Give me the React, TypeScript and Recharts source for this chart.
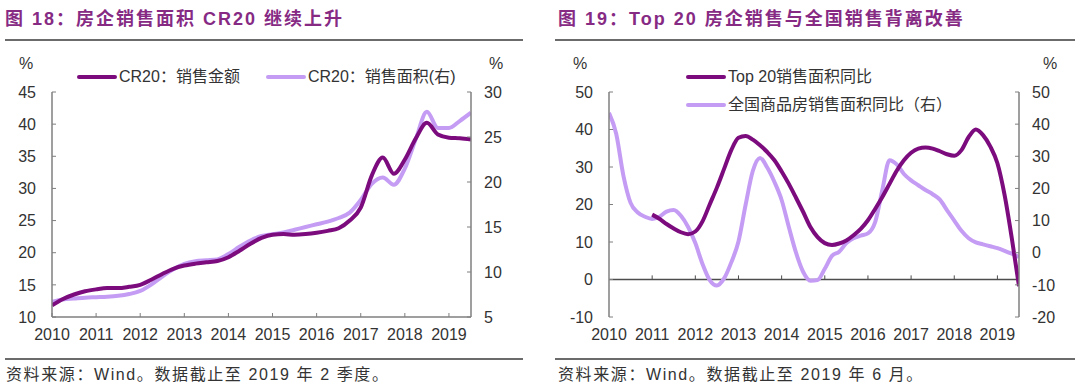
import React from 'react';
import { LineChart, Line, XAxis, YAxis, Legend, ReferenceLine } from 'recharts';

const FONT = '"Liberation Sans", Arial, "Noto Sans CJK SC", sans-serif';
const DARK = '#7c0b7e';
const LIGHT = '#c59cf4';
const AXIS = '#7f7f7f';
const TEXT = '#333333';
const TITLE_COLOR = '#862a84';

const years = [2010, 2011, 2012, 2013, 2014, 2015, 2016, 2017, 2018, 2019];

// 图18 quarterly CR20 (%)
const cr20Quarters = [
  '2009Q4',
  '2010Q1', '2010Q2', '2010Q3', '2010Q4',
  '2011Q1', '2011Q2', '2011Q3', '2011Q4',
  '2012Q1', '2012Q2', '2012Q3', '2012Q4',
  '2013Q1', '2013Q2', '2013Q3', '2013Q4',
  '2014Q1', '2014Q2', '2014Q3', '2014Q4',
  '2015Q1', '2015Q2', '2015Q3', '2015Q4',
  '2016Q1', '2016Q2', '2016Q3', '2016Q4',
  '2017Q1', '2017Q2', '2017Q3', '2017Q4',
  '2018Q1', '2018Q2', '2018Q3', '2018Q4',
  '2019Q1', '2019Q2',
];
const cr20Amount = [
  11.8,
  12.8, 13.5, 14.0, 14.3,
  14.5, 14.5, 14.7, 15.0,
  15.8, 16.7, 17.5, 18.0,
  18.3, 18.5, 18.7, 19.3,
  20.3, 21.4, 22.3, 22.8,
  22.9, 22.8, 22.9, 23.1,
  23.4, 23.8, 25.0, 27.0,
  32.0, 34.8, 32.3, 34.5,
  37.8, 40.2, 38.4, 37.9,
  37.8, 37.6,
];
const cr20Area = [
  6.7,
  6.95, 7.05, 7.15, 7.2,
  7.25, 7.35, 7.55, 7.9,
  8.6, 9.5, 10.3, 10.9,
  11.2, 11.3, 11.4, 12.0,
  12.8, 13.5, 14.0, 14.2,
  14.4, 14.7, 15.0, 15.3,
  15.6, 16.0, 16.6, 18.0,
  19.8, 20.5, 19.7, 21.5,
  24.8, 27.8, 26.0, 26.0,
  26.8, 27.7,
];

// 图19 sales area yoy (%)
const yoyMonths = [
  '2009-12',
  '2010-02', '2010-04', '2010-06', '2010-08', '2010-10', '2010-12',
  '2011-02', '2011-04', '2011-06', '2011-08', '2011-10', '2011-12',
  '2012-02', '2012-04', '2012-06', '2012-08', '2012-10', '2012-12',
  '2013-02', '2013-04', '2013-06', '2013-08', '2013-10', '2013-12',
  '2014-02', '2014-04', '2014-06', '2014-08', '2014-10', '2014-12',
  '2015-02', '2015-04', '2015-06', '2015-08', '2015-10', '2015-12',
  '2016-02', '2016-04', '2016-06', '2016-08', '2016-10', '2016-12',
  '2017-02', '2017-04', '2017-06', '2017-08', '2017-10', '2017-12',
  '2018-02', '2018-04', '2018-06', '2018-08', '2018-10', '2018-12',
  '2019-02', '2019-04', '2019-06',
];
const top20AreaYoy = [
  null,
  null, null, null, null, null, 17.3,
  16.2, 14.8, 13.6, 12.6, 12.1, 12.8,
  15.5, 20.0, 24.5, 29.5, 34.5, 37.8,
  38.3, 37.3, 35.8, 34.0, 31.8, 28.8,
  25.5, 21.8, 18.0, 14.0, 11.3, 9.7,
  9.2, 9.6, 10.4, 11.8, 13.5, 15.8,
  18.8, 22.0, 25.5, 29.0, 31.8, 33.8,
  34.9, 35.2, 34.9, 34.2, 33.4, 33.0,
  34.5, 38.0, 40.0, 38.5, 35.5, 31.0,
  22.5, 11.0, -1.8,
];
const nationalAreaYoy = [
  43.5,
  37.0, 24.0, 15.5, 12.5, 11.2, 10.5,
  11.2, 12.8, 13.3, 11.5, 8.0, 3.0,
  -3.5, -8.5, -10.2, -8.0, -3.0, 3.5,
  15.0, 25.5, 29.5, 26.5, 22.0, 16.4,
  8.0, 0.0, -6.0, -8.7, -8.5, -5.0,
  -1.0, 0.3, 3.0, 4.5, 5.3, 6.0,
  9.5, 19.5, 28.8, 27.5, 24.5, 22.5,
  21.0, 19.5, 18.2, 16.5, 13.2, 10.0,
  6.8, 4.5, 3.2, 2.6, 2.0, 1.4,
  0.6, -0.3, -1.3,
];

const cr20Data = cr20Quarters.map((q, i) => {
  const [y, n] = q.split('Q');
  return { t: +y + +n / 4, amount: cr20Amount[i], area: cr20Area[i] };
});

const yoyData = yoyMonths.map((m, i) => {
  const [y, mm] = m.split('-');
  return { t: +y + +mm / 12, top20: top20AreaYoy[i], national: nationalAreaYoy[i] };
});

const tickStyle = { fill: TEXT, fontSize: 16, fontFamily: FONT };

type LegendItem = { label: string; color: string };

const LegendBox = ({ items, vertical }: { items: LegendItem[]; vertical?: boolean }) => (
  <div
    style={{
      display: 'flex',
      flexDirection: vertical ? 'column' : 'row',
      gap: vertical ? 8 : 26,
      fontFamily: FONT,
      fontSize: 16,
      color: TEXT,
      whiteSpace: 'nowrap',
      lineHeight: '20px',
    }}
  >
    {items.map((it) => (
      <div key={it.label} style={{ display: 'flex', alignItems: 'center' }}>
        <span style={{ display: 'inline-block', width: 40, height: 4, background: it.color, marginRight: 2, borderRadius: 2 }} />
        {it.label}
      </div>
    ))}
  </div>
);

const Abs = ({ x, y, children, style }: { x: number; y: number; children: React.ReactNode; style?: React.CSSProperties }) => (
  <div style={{ position: 'absolute', left: x, top: y, whiteSpace: 'nowrap', lineHeight: 1, ...style }}>{children}</div>
);

const titleStyle: React.CSSProperties = {
  fontFamily: '"Liberation Sans", "Noto Sans CJK SC", sans-serif',
  fontWeight: 700,
  fontSize: 18,
  letterSpacing: 2,
  color: TITLE_COLOR,
};
const sourceStyle: React.CSSProperties = {
  fontFamily: '"Liberation Sans", "Noto Sans CJK SC", sans-serif',
  fontSize: 16,
  letterSpacing: 1.6,
  color: TEXT,
};
const pctStyle: React.CSSProperties = { fontFamily: FONT, fontSize: 16, color: TEXT };
const rule = (x: number, y: number, w: number) => (
  <div style={{ position: 'absolute', left: x, top: y, width: w, height: 1.5, background: '#6b6b6b' }} />
);

const CR20Chart = () => (
  <LineChart width={540} height={388} data={cr20Data} margin={{ top: 92, right: 29, bottom: 41, left: 0 }}>
    <XAxis
      dataKey="t"
      type="number"
      domain={[2010, 2019.5]}
      ticks={years}
      interval={0}
      height={30}
      tickSize={-4}
      tickMargin={16}
      axisLine={{ stroke: AXIS, strokeWidth: 1.5 }}
      tickLine={{ stroke: AXIS }}
      tick={tickStyle}
      allowDataOverflow
    />
    <YAxis
      yAxisId="l"
      domain={[10, 45]}
      ticks={[10, 15, 20, 25, 30, 35, 40, 45]}
      interval={0}
      width={52}
      tickSize={-4}
      tickMargin={20}
      axisLine={{ stroke: AXIS, strokeWidth: 1.5 }}
      tickLine={{ stroke: AXIS }}
      tick={tickStyle}
    />
    <YAxis
      yAxisId="r"
      orientation="right"
      domain={[5, 30]}
      ticks={[5, 10, 15, 20, 25, 30]}
      interval={0}
      width={40}
      tickSize={-4}
      tickMargin={17}
      axisLine={{ stroke: AXIS, strokeWidth: 1.5 }}
      tickLine={{ stroke: AXIS }}
      tick={tickStyle}
    />
    <Legend
      layout="vertical"
      align="center"
      verticalAlign="middle"
      wrapperStyle={{ left: 77, top: 67, width: 'auto', height: 'auto' }}
      content={() => (
        <LegendBox
          items={[
            { label: 'CR20：销售金额', color: DARK },
            { label: 'CR20：销售面积(右)', color: LIGHT },
          ]}
        />
      )}
    />
    <Line yAxisId="r" dataKey="area" type="monotone" stroke={LIGHT} strokeWidth={4} dot={false} isAnimationActive={false} />
    <Line yAxisId="l" dataKey="amount" type="monotone" stroke={DARK} strokeWidth={4} dot={false} isAnimationActive={false} />
  </LineChart>
);

const YoyChart = () => (
  <LineChart width={540} height={388} data={yoyData} margin={{ top: 92, right: 21, bottom: 41, left: 0 }}>
    <XAxis
      dataKey="t"
      type="number"
      domain={[2010, 2019.5]}
      ticks={years}
      interval={0}
      height={30}
      tickSize={-4}
      tickMargin={16}
      axisLine={false}
      tickLine={false}
      tick={tickStyle}
      allowDataOverflow
    />
    <YAxis
      yAxisId="l"
      domain={[-10, 50]}
      ticks={[-10, 0, 10, 20, 30, 40, 50]}
      interval={0}
      width={69}
      tickSize={-4}
      tickMargin={20}
      axisLine={{ stroke: AXIS, strokeWidth: 1.5 }}
      tickLine={{ stroke: AXIS }}
      tick={tickStyle}
    />
    <YAxis
      yAxisId="r"
      orientation="right"
      domain={[-20, 50]}
      ticks={[-20, -10, 0, 10, 20, 30, 40, 50]}
      interval={0}
      width={40}
      tickSize={-4}
      tickMargin={17}
      axisLine={{ stroke: AXIS, strokeWidth: 1.5 }}
      tickLine={{ stroke: AXIS }}
      tick={tickStyle}
    />
    <ReferenceLine yAxisId="l" y={0} stroke="#4d4d4d" strokeWidth={1.5} />
    {years.slice(1).map((yr) => (
      <ReferenceLine key={yr} yAxisId="l" segment={[{ x: yr, y: 0 }, { x: yr, y: 1.1 }]} stroke="#4d4d4d" />
    ))}
    <Legend
      layout="vertical"
      align="center"
      verticalAlign="middle"
      wrapperStyle={{ left: 146, top: 67, width: 'auto', height: 'auto' }}
      content={() => (
        <LegendBox
          vertical
          items={[
            { label: 'Top 20销售面积同比', color: DARK },
            { label: '全国商品房销售面积同比（右）', color: LIGHT },
          ]}
        />
      )}
    />
    <Line yAxisId="r" dataKey="national" type="monotone" stroke={LIGHT} strokeWidth={4} dot={false} isAnimationActive={false} />
    <Line yAxisId="l" dataKey="top20" type="monotone" stroke={DARK} strokeWidth={4} dot={false} isAnimationActive={false} />
  </LineChart>
);

export default function App() {
  return (
    <div style={{ position: 'absolute', left: 0, top: 0, width: 1080, height: 388, background: '#fff', overflow: 'hidden' }}>
      <Abs x={5} y={10} style={titleStyle}>图 18：房企销售面积 CR20 继续上升</Abs>
      <Abs x={558} y={10} style={titleStyle}>图 19：Top 20 房企销售与全国销售背离改善</Abs>
      {rule(5, 39, 518)}
      {rule(555, 39, 520)}
      <div style={{ position: 'absolute', left: 0, top: 0 }}>
        <CR20Chart />
      </div>
      <div style={{ position: 'absolute', left: 540, top: 0 }}>
        <YoyChart />
      </div>
      <Abs x={19} y={56} style={pctStyle}>%</Abs>
      <Abs x={489} y={56} style={pctStyle}>%</Abs>
      <Abs x={573} y={56} style={pctStyle}>%</Abs>
      <Abs x={1043} y={56} style={pctStyle}>%</Abs>
      {rule(5, 358, 518)}
      {rule(555, 358, 520)}
      <Abs x={6} y={367} style={sourceStyle}>资料来源：Wind。数据截止至 2019 年 2 季度。</Abs>
      <Abs x={558} y={367} style={sourceStyle}>资料来源：Wind。数据截止至 2019 年 6 月。</Abs>
    </div>
  );
}
